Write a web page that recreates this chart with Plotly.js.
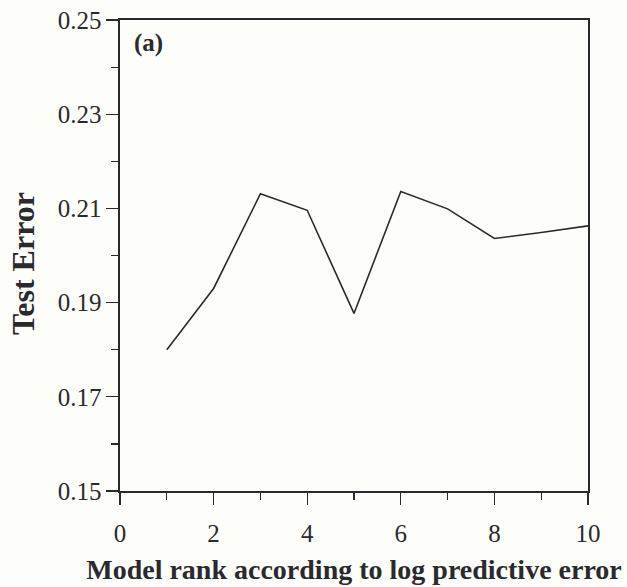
<!DOCTYPE html>
<html>
<head>
<meta charset="utf-8">
<script src="https://cdn.plot.ly/plotly-3.0.1.min.js"></script>
<style>
  html, body { margin: 0; padding: 0; background: rgb(253,253,249); }
  #chart { width: 627px; height: 587px; }
</style>
</head>
<body>
<div id="chart"></div>
<script>
// Test error for each model, ordered by its log predictive error rank
const modelRank = [1, 2, 3, 4, 5, 6, 7, 8, 9, 10];
const testError = [0.180, 0.193, 0.2131, 0.2096, 0.1877, 0.2136, 0.2099, 0.2036, 0.2049, 0.2063];

const xTickVals = [0, 2, 4, 6, 8, 10];
const yTickVals = [0.15, 0.17, 0.19, 0.21, 0.23, 0.25];

const ink = '#2a2a2e';
const serif = '"Liberation Serif", "Times New Roman", serif';

const trace = {
  x: modelRank,
  y: testError,
  type: 'scatter',
  mode: 'lines',
  line: { color: ink, width: 1.6 },
  hoverinfo: 'x+y'
};

const layout = {
  width: 627,
  height: 587,
  margin: { l: 120, r: 39, t: 20, b: 96 },
  paper_bgcolor: 'rgb(253,253,249)',
  plot_bgcolor: 'rgb(253,253,249)',
  showlegend: false,
  font: { family: serif, color: ink },
  xaxis: {
    range: [0, 10],
    tickvals: xTickVals,
    ticks: 'outside',
    ticklen: 12,
    tickwidth: 1.4,
    tickcolor: ink,
    ticklabelstandoff: 7,
    showline: true,
    linecolor: ink,
    linewidth: 1.6,
    mirror: true,
    showgrid: false,
    zeroline: false,
    tickfont: { family: serif, size: 25, color: ink },
    minor: { dtick: 1, ticks: 'outside', ticklen: 7, tickwidth: 1.2, tickcolor: ink, showgrid: false },
    title: {
      text: '<b>Model rank according to log predictive error</b>',
      font: { family: serif, size: 28, color: ink },
      standoff: 14
    }
  },
  yaxis: {
    range: [0.15, 0.25],
    tickvals: yTickVals,
    tickformat: '.2f',
    ticks: 'outside',
    ticklen: 12,
    tickwidth: 1.4,
    tickcolor: ink,
    showline: true,
    linecolor: ink,
    linewidth: 1.6,
    mirror: true,
    showgrid: false,
    zeroline: false,
    tickfont: { family: serif, size: 25, color: ink },
    minor: { dtick: 0.01, ticks: 'outside', ticklen: 7, tickwidth: 1.2, tickcolor: ink, showgrid: false }
  },
  annotations: [{
    text: '<b>(a)</b>',
    xref: 'paper', yref: 'paper',
    x: 0.025, y: 0.985,
    xanchor: 'left', yanchor: 'top',
    showarrow: false,
    font: { family: serif, size: 25, color: ink }
  }, {
    // vertical axis title
    text: '<b>Test Error</b>',
    xref: 'paper', yref: 'paper',
    x: -0.207, y: 0.482,
    xanchor: 'center', yanchor: 'middle',
    textangle: -90,
    showarrow: false,
    font: { family: serif, size: 32, color: ink }
  }]
};

Plotly.newPlot('chart', [trace], layout, { staticPlot: true, displayModeBar: false });
</script>
</body>
</html>
